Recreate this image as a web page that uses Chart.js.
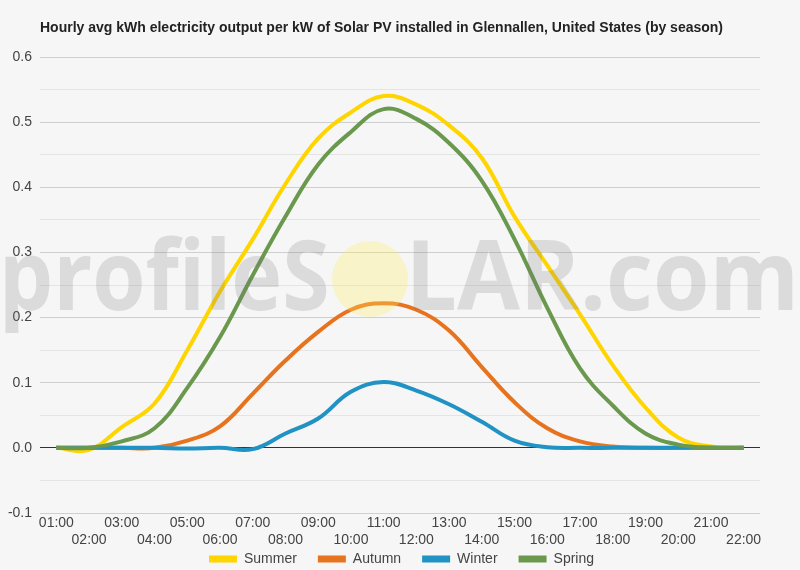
<!DOCTYPE html>
<html><head><meta charset="utf-8">
<script src="https://cdn.jsdelivr.net/npm/chart.js@4/dist/chart.umd.min.js"></script>
<style>html,body{margin:0;padding:0;background:#f6f6f6;}canvas{display:block;}</style>
</head><body>
<canvas id="c" width="800" height="570"></canvas>
<script>
const hours = ['01:00','02:00','03:00','04:00','05:00','06:00','07:00','08:00','09:00','10:00','11:00','12:00','13:00','14:00','15:00','16:00','17:00','18:00','19:00','20:00','21:00','22:00'];
const summer = [0, -0.003, 0.032, 0.068, 0.15, 0.24, 0.32, 0.405, 0.475, 0.515, 0.54, 0.527, 0.495, 0.445, 0.355, 0.28, 0.205, 0.127, 0.062, 0.016, 0.002, 0];
const autumn = [0, 0, 0, 0, 0.011, 0.033, 0.083, 0.134, 0.178, 0.212, 0.222, 0.212, 0.18, 0.124, 0.07, 0.03, 0.01, 0.002, 0, 0, 0, 0];
const winter = [0, 0, 0, 0, -0.001, 0, -0.002, 0.022, 0.045, 0.086, 0.101, 0.088, 0.067, 0.04, 0.011, 0.001, 0, 0, 0, 0, 0, 0];
const spring = [0, 0, 0.01, 0.03, 0.092, 0.17, 0.265, 0.355, 0.435, 0.485, 0.52, 0.505, 0.468, 0.41, 0.32, 0.215, 0.122, 0.065, 0.022, 0.005, 0, 0];
const seriesNames = ['Summer','Autumn','Winter','Spring'];
const seriesColors = ['#FFD500','#E8731E','#2192C4','#6A994E'];
const titleText = 'Hourly avg kWh electricity output per kW of Solar PV installed in Glennallen, United States (by season)';
const FONT = '"Liberation Sans", Arial, sans-serif';

function drawPart(ctx, str, inkLeft, inkRight, baseline) {
  const m = ctx.measureText(str);
  const w = m.actualBoundingBoxLeft + m.actualBoundingBoxRight;
  const sx = (inkRight - inkLeft) / w;
  ctx.save();
  ctx.translate(inkLeft, baseline);
  ctx.scale(sx, 1);
  ctx.fillText(str, m.actualBoundingBoxLeft, 0);
  ctx.restore();
}

const bgPlugin = {
  id: 'bg',
  afterLayout(chart) {
    const lg = chart.legend;
    if (lg) {
      const h = lg.bottom - lg.top;
      lg.top = 531; lg.bottom = 531 + h;
      lg.left = 3; lg.right = 800; lg.width = 797;
    }
  },
  beforeDraw(chart) {
    const ctx = chart.ctx;
    ctx.save();
    ctx.fillStyle = '#f6f6f6';
    ctx.fillRect(0, 0, chart.width, chart.height);
    ctx.restore();
  },
  afterDatasetsDraw(chart) {
    const ctx = chart.ctx;
    ctx.save();
    ctx.font = 'bold 96px "Open Sans", sans-serif';
    ctx.textBaseline = 'alphabetic';
    ctx.fillStyle = 'rgba(120,120,120,0.21)';
    drawPart(ctx, 'profileS', 5, 327, 310);
    drawPart(ctx, 'LAR.com', 413, 793, 310);
    ctx.beginPath();
    ctx.arc(370, 279, 38, 0, Math.PI * 2);
    ctx.fillStyle = 'rgba(255,236,100,0.3)';
    ctx.fill();
    ctx.restore();
  },
  afterDraw(chart) {
    const ctx = chart.ctx;
    ctx.save();
    ctx.font = 'bold 14px ' + FONT;
    ctx.fillStyle = '#222';
    ctx.textBaseline = 'middle';
    ctx.textAlign = 'left';
    ctx.fillText(titleText, 40, 28);
    ctx.restore();
  }
};

const dataArrays = [summer, autumn, winter, spring];
const datasets = seriesNames.map((n, i) => ({
  label: n,
  data: dataArrays[i],
  borderColor: seriesColors[i],
  backgroundColor: seriesColors[i],
  borderWidth: 4,
  pointRadius: 0,
  tension: 0.4,
  fill: false,
  order: 4 - i
}));

new Chart(document.getElementById('c'), {
  type: 'line',
  data: { labels: hours, datasets },
  plugins: [bgPlugin],
  options: {
    responsive: false,
    animation: false,
    layout: { padding: { top: 57, right: 40, left: 0, bottom: -24 } },
    scales: {
      x: {
        offset: true,
        grid: { display: false, drawTicks: false },
        border: { display: false },
        ticks: {
          autoSkip: false, maxRotation: 0, minRotation: 0, padding: 2,
          color: '#444', font: { size: 14, family: FONT },
          callback: (v, i) => i % 2 === 0 ? hours[i] : ['', hours[i]]
        },
        afterFit: s => { s.height = 36; }
      },
      y: {
        min: -0.1, max: 0.6,
        border: { display: false },
        grid: {
          drawTicks: false,
          color: c => {
            const k = Math.round(c.tick.value * 100);
            if (k === 0) return '#333333';
            return k % 10 === 0 ? '#cfcfcf' : '#e4e4e4';
          }
        },
        ticks: {
          stepSize: 0.05, padding: 8, color: '#444', font: { size: 14, family: FONT },
          callback: v => { const k = Math.round(v * 100); return k % 10 === 0 ? (k / 100).toFixed(1) : ''; }
        },
        afterFit: s => { s.width = 40; }
      }
    },
    plugins: {
      title: { display: false },
      tooltip: { enabled: false },
      legend: {
        position: 'bottom',
        labels: {
          boxWidth: 28, boxHeight: 7, padding: 21, color: '#444',
          font: { size: 14, family: FONT },
          sort: (a, b) => a.datasetIndex - b.datasetIndex,
          generateLabels: chart => Chart.defaults.plugins.legend.labels.generateLabels(chart).map(l => Object.assign(l, { lineWidth: 0 }))
        }
      }
    }
  }
});
</script>
</body></html>
